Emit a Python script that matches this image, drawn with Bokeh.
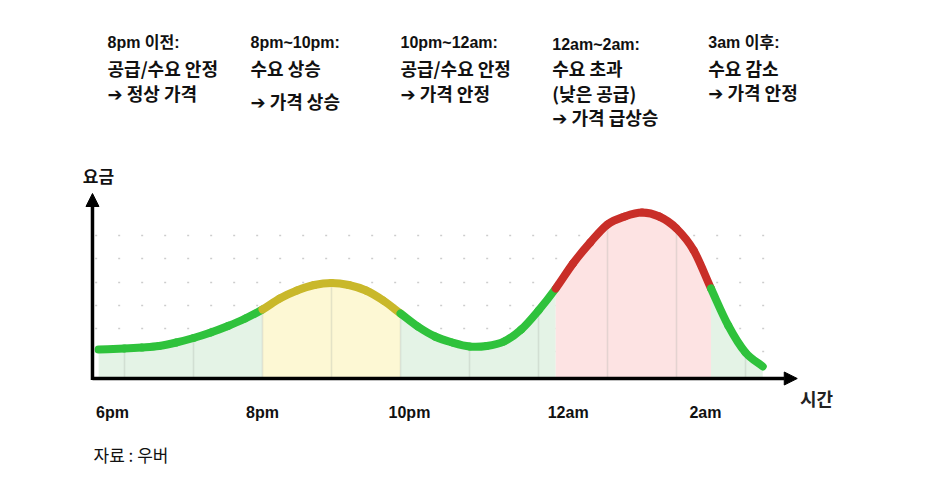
import numpy as np
from bokeh.plotting import figure
from bokeh.models import Range1d, Arrow, NormalHead, FixedTicker, CustomJSTickFormatter
from bokeh.core.properties import value
from bokeh.embed import file_html
from bokeh.resources import INLINE

# ---- data (hours after 6pm, relative price) ----
times = [-0.375, 0.0, 0.25, 0.5, 0.75, 1.0, 1.25, 1.5, 1.75, 2.0, 2.25, 2.5, 2.75,
         3.0, 3.25, 3.5, 3.75, 4.0, 4.25, 4.5, 4.75, 5.0, 5.25, 5.5, 5.75, 6.0,
         6.25, 6.5, 6.75, 7.0, 7.25, 7.5, 7.75, 8.0, 8.25, 8.5, 8.75, 9.0, 9.25]
price = [2.9, 3.0, 3.1, 3.25, 3.6, 4.05, 4.6, 5.25, 6.0, 6.9, 8.0, 8.8, 9.35,
         9.55, 9.35, 8.8, 7.8, 6.5, 5.2, 4.2, 3.6, 3.2, 3.25, 3.7, 4.9, 6.8,
         9.0, 11.5, 13.6, 15.4, 16.2, 16.6, 16.2, 15.0, 12.8, 9.0, 5.3, 2.6, 1.2]

phase_start = [-0.375, 2.0, 4.0, 6.25, 8.5]
phase_end = [2.0, 4.0, 6.25, 8.5, 9.25]
phase_line = ["#2fc23c", "#c9b82a", "#2fc23c", "#c92e28", "#2fc23c"]
phase_fill = ["#e4f3e6", "#fdf8d4", "#e4f3e6", "#fde3e3", "#e4f3e6"]

tick_pos = [-0.174, 2.0, 4.13, 6.43, 8.42]
tick_labels = ["6pm", "8pm", "10pm", "12am", "2am"]

headers = ["8pm 이전:", "8pm~10pm:", "10pm~12am:", "12am~2am:", "3am 이후:"]
notes = [["공급/수요 안정", "➔ 정상 가격"],
         ["수요 상승", "➔ 가격 상승"],
         ["공급/수요 안정", "➔ 가격 안정"],
         ["수요 초과", "(낮은 공급)", "➔ 가격 급상승"],
         ["수요 감소", "➔ 가격 안정"]]
grid_levels = [2.7, 5.0, 7.3, 9.6, 12.0, 14.3]
hour_marks = [0.0, 1.0, 2.0, 3.0, 4.0, 5.0, 6.0, 7.0, 8.0, 9.0]

# ---- layout positions ----
block_x = [-0.246, 1.826, 4.0, 6.2, 8.46]
header_y = [33.6, 33.6, 33.6, 33.4, 33.6]
note_y = [[31.1, 28.6], [31.1, 27.8], [31.1, 28.6], [31.1, 28.6, 26.2], [31.1, 28.7]]

t = np.array(times)
v = np.array(price)

p = figure(frame_width=926, frame_height=470,
           x_range=Range1d(-124 / 69, 802 / 69), y_range=Range1d(-9.2, 37.8),
           output_backend="svg", toolbar_location=None,
           min_border_left=0, min_border_right=0, min_border_top=0, min_border_bottom=12)
p.outline_line_color = None
p.xgrid.visible = False
p.ygrid.visible = False
p.yaxis.visible = False
p.background_fill_color = "white"
p.border_fill_color = "white"

ax = p.xaxis[0]
ax.fixed_location = -1.9
ax.ticker = FixedTicker(ticks=tick_pos)
ax.formatter = CustomJSTickFormatter(args=dict(pos=tick_pos, labels=tick_labels), code="""
    let best = 0, d = 1e9;
    for (let i = 0; i < pos.length; i++) { const e = Math.abs(pos[i] - tick); if (e < d) { d = e; best = i; } }
    return labels[best];
""")
ax.axis_line_color = None
ax.major_tick_line_color = None
ax.minor_tick_line_color = None
ax.major_label_standoff = 0
ax.major_label_text_font = "Liberation Sans"
ax.major_label_text_font_style = "bold"
ax.major_label_text_font_size = "16px"
ax.major_label_text_color = "#111111"

# dotted background grid
p.segment(x0=[times[0] - 0.05] * len(grid_levels), x1=[times[-1] + 0.12] * len(grid_levels),
          y0=grid_levels, y1=grid_levels, line_color="#cdcdcd", line_width=1.5, line_dash="2 21")

# fills under the curve
for s, e, fc in zip(phase_start, phase_end, phase_fill):
    m = (t >= s - 1e-9) & (t <= e + 1e-9)
    p.varea(x=t[m], y1=0, y2=v[m], fill_color=fc)

# hour lines inside fills
idx = [times.index(h) for h in hour_marks]
p.segment(x0=hour_marks, x1=hour_marks, y0=[0] * len(idx), y1=[price[i] for i in idx],
          line_color="#9aa39a", line_alpha=0.25, line_width=1.5)

# price curve: smooth cubic segments through the read points (Catmull-Rom control points)
n = len(t)
tp = np.concatenate([[2 * t[0] - t[1]], t, [2 * t[-1] - t[-2]]])
vp = np.concatenate([[2 * v[0] - v[1]], v, [2 * v[-1] - v[-2]]])
cx0 = t[:-1] + (tp[2:n + 1] - tp[0:n - 1]) / 6
cy0 = v[:-1] + (vp[2:n + 1] - vp[0:n - 1]) / 6
cx1 = t[1:] - (tp[3:n + 2] - tp[1:n]) / 6
cy1 = v[1:] - (vp[3:n + 2] - vp[1:n]) / 6
for s, e, lc in zip(phase_start, phase_end, phase_line):
    m = (t[:-1] >= s - 1e-9) & (t[1:] <= e + 1e-9)
    p.bezier(x0=t[:-1][m], y0=v[:-1][m], x1=t[1:][m], y1=v[1:][m],
             cx0=cx0[m], cy0=cy0[m], cx1=cx1[m], cy1=cy1[m],
             line_color=lc, line_width=8, line_cap="round")

# axes arrows
ox = -0.464
p.add_layout(Arrow(end=NormalHead(size=13, fill_color="black", line_color="black"),
                   x_start=ox, y_start=0, x_end=9.75, y_end=0, line_width=3.5, line_color="black"))
p.add_layout(Arrow(end=NormalHead(size=13, fill_color="black", line_color="black"),
                   x_start=ox, y_start=-0.15, x_end=ox, y_end=18.5, line_width=3.5, line_color="black"))

# header texts
p.text(x=block_x, y=header_y, text=headers, text_font=value("Liberation Sans, Noto Sans CJK KR"),
       text_font_style="bold", text_font_size="16px", text_baseline="middle", text_align="left",
       text_color="#111111")
nx, ny, nt = [], [], []
for bx, ys, ls in zip(block_x, note_y, notes):
    for yy, ll in zip(ys, ls):
        nx.append(bx); ny.append(yy); nt.append(ll)
p.text(x=nx, y=ny, text=nt, text_font=value("Noto Sans CJK KR, DejaVu Sans"),
       text_font_style="bold", text_font_size="18px", text_baseline="middle", text_align="left",
       text_color="#111111")

# axis titles and source
p.text(x=[-0.377], y=[20.3], text=["요금"], text_font=value("Noto Sans CJK KR"), text_font_style="bold",
       text_font_size="17px", text_baseline="middle", text_align="center", text_color="#111111")
p.text(x=[10.03], y=[-1.9], text=["시간"], text_font=value("Noto Sans CJK KR"), text_font_style="bold",
       text_font_size="18px", text_baseline="middle", text_align="center", text_color="#222222")
p.text(x=[-0.449], y=[-7.6], text=["자료 : 우버"], text_font=value("Noto Sans CJK KR"),
       text_font_size="17px", text_baseline="middle", text_align="left", text_color="#111111")

open("out.html", "w").write(file_html(p, INLINE))
